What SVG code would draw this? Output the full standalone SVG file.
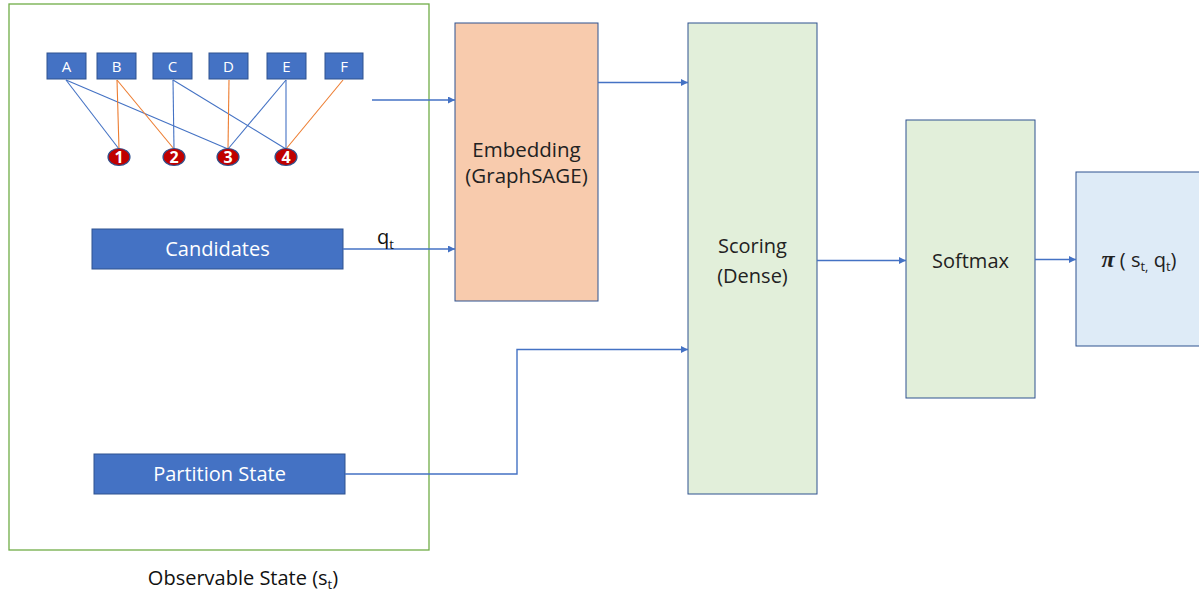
<svg xmlns="http://www.w3.org/2000/svg" width="1199" height="592" viewBox="0 0 1199 592">
<defs>
<marker id="ah" viewBox="0 0 10 10" refX="10" refY="5" markerWidth="7" markerHeight="7" markerUnits="userSpaceOnUse" orient="auto">
<path d="M0,0 L10,5 L0,10 z" fill="#4472C4"/>
</marker>
<style>
text{font-family:"Open Sans","Liberation Sans",sans-serif;}
.lbl{fill:#4472C4;stroke:#2F528F;stroke-width:1;}
.lt{fill:#fff;font-size:15px;text-anchor:middle;}
.bar{fill:#4472C4;stroke:#2F528F;stroke-width:1;}
.bt{fill:#fff;font-size:20px;text-anchor:middle;}
.circ{fill:#C00000;stroke:#2F528F;stroke-width:1.2;}
.ct{fill:#fff;font-size:16px;font-weight:bold;text-anchor:middle;}
.mt{fill:#222;font-size:20px;text-anchor:middle;}
.eb{stroke:#4472C4;stroke-width:1.1;fill:none;}
.eo{stroke:#ED7D31;stroke-width:1.1;fill:none;}
.conn{stroke:#4472C4;stroke-width:1.4;fill:none;}
</style>
</defs>
<rect id="observable" x="9" y="4" width="420" height="546" fill="#fff" stroke="#70AD47" stroke-width="1.3"/>
<g id="graph-edges">
<line class="eb" x1="66" y1="80" x2="119" y2="149"/>
<line class="eb" x1="66" y1="80" x2="228" y2="149"/>
<line class="eo" x1="117" y1="80" x2="119" y2="149"/>
<line class="eo" x1="117" y1="80" x2="174" y2="149"/>
<line class="eb" x1="173" y1="80" x2="174" y2="149"/>
<line class="eb" x1="173" y1="80" x2="286" y2="149"/>
<line class="eo" x1="229" y1="80" x2="228" y2="149"/>
<line class="eb" x1="286" y1="80" x2="228" y2="149"/>
<line class="eb" x1="286" y1="80" x2="286" y2="149"/>
<line class="eo" x1="343" y1="80" x2="286" y2="149"/>
</g>
<g id="node-A"><rect class="lbl" x="47" y="53" width="39" height="26"/><text class="lt" x="66.5" y="71.5">A</text></g>
<g id="node-B"><rect class="lbl" x="97" y="53" width="39" height="26"/><text class="lt" x="116.5" y="71.5">B</text></g>
<g id="node-C"><rect class="lbl" x="153" y="53" width="39" height="26"/><text class="lt" x="172.5" y="71.5">C</text></g>
<g id="node-D"><rect class="lbl" x="209" y="53" width="39" height="26"/><text class="lt" x="228.5" y="71.5">D</text></g>
<g id="node-E"><rect class="lbl" x="267" y="53" width="39" height="26"/><text class="lt" x="286.5" y="71.5">E</text></g>
<g id="node-F"><rect class="lbl" x="325" y="53" width="38" height="26"/><text class="lt" x="344" y="71.5">F</text></g>
<g id="node-1"><ellipse class="circ" cx="119" cy="157" rx="11" ry="8.5"/><text class="ct" x="119" y="163">1</text></g>
<g id="node-2"><ellipse class="circ" cx="174" cy="157" rx="11" ry="8.5"/><text class="ct" x="174" y="163">2</text></g>
<g id="node-3"><ellipse class="circ" cx="228" cy="157" rx="11" ry="8.5"/><text class="ct" x="228" y="163">3</text></g>
<g id="node-4"><ellipse class="circ" cx="286" cy="157" rx="11" ry="8.5"/><text class="ct" x="286" y="163">4</text></g>
<g id="candidates"><rect class="bar" x="92" y="229" width="251" height="40"/><text class="bt" x="217.5" y="256">Candidates</text></g>
<g id="partition"><rect class="bar" x="94" y="454" width="251" height="40"/><text class="bt" x="219.5" y="481">Partition State</text></g>
<g id="embedding"><rect x="455" y="23" width="143" height="278" fill="#F8CBAD" stroke="#2F528F" stroke-width="1"/><text class="mt" x="526.5" y="157" style="font-size:20.5px">Embedding</text><text class="mt" x="526.5" y="183" style="font-size:20.5px">(GraphSAGE)</text></g>
<g id="scoring"><rect x="688" y="23" width="129" height="471" fill="#E2EFDA" stroke="#2F528F" stroke-width="1"/><text class="mt" x="752.5" y="253">Scoring</text><text class="mt" x="752.5" y="283">(Dense)</text></g>
<g id="softmax"><rect x="906" y="120" width="129" height="278" fill="#E2EFDA" stroke="#2F528F" stroke-width="1"/><text class="mt" x="970.5" y="268">Softmax</text></g>
<g id="policy"><rect x="1076" y="172" width="130" height="174" fill="#DEEBF7" stroke="#2F528F" stroke-width="1"/><text class="mt" x="1139" y="267" style="font-size:20px"><tspan font-family="Liberation Serif,serif" font-weight="bold" font-style="italic" font-size="24">π</tspan> ( s<tspan font-size="13" dy="4">t,</tspan><tspan dy="-4"> q</tspan><tspan font-size="13" dy="4">t</tspan><tspan dy="-4">)</tspan></text></g>
<g id="connectors">
<line class="conn" x1="372" y1="100" x2="455" y2="100" marker-end="url(#ah)"/>
<line class="conn" x1="343" y1="249" x2="455" y2="249" marker-end="url(#ah)"/>
<line class="conn" x1="598" y1="82.5" x2="688" y2="82.5" marker-end="url(#ah)"/>
<polyline class="conn" points="345,474 517,474 517,349.5 688,349.5" marker-end="url(#ah)"/>
<line class="conn" x1="817" y1="260.5" x2="906" y2="260.5" marker-end="url(#ah)"/>
<line class="conn" x1="1035" y1="259.5" x2="1076" y2="259.5" marker-end="url(#ah)"/>
</g>
<text x="377" y="244" style="font-size:20px;fill:#111">q<tspan font-size="13" dy="5">t</tspan></text>
<text x="243" y="585" style="font-size:20px;fill:#111;text-anchor:middle">Observable State (s<tspan font-size="13" dy="4">t</tspan><tspan dy="-4">)</tspan></text>
</svg>
